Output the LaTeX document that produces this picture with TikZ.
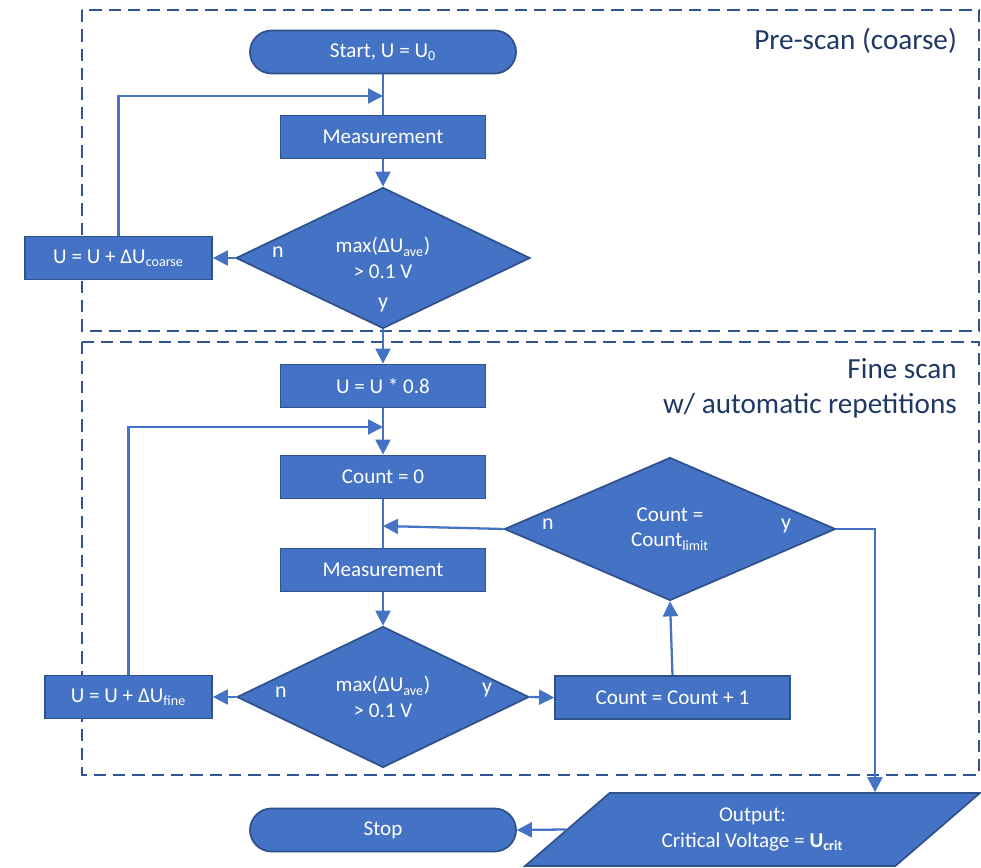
\documentclass[tikz,border=0pt]{standalone}
\usepackage{fontspec}
\setmainfont{Carlito}
\usetikzlibrary{arrows.meta,shapes.geometric,positioning}

\definecolor{boxblue}{HTML}{4472C4}
\definecolor{edgeblue}{HTML}{2F528F}
\definecolor{frameblue}{HTML}{2F5597}
\definecolor{navy}{HTML}{1F3864}

\begin{document}
\begin{tikzpicture}[>={Triangle[length=3mm,width=3mm]},
    box/.style={draw=edgeblue, fill=boxblue, line width=1pt, text=white,
        font=\fontsize{12}{14.4}\selectfont, minimum height=0.86cm, inner sep=0pt},
    term/.style={box, rounded corners=0.43cm, minimum width=5.32cm},
    dec/.style={box, diamond, align=center, minimum width=5.88cm, minimum height=2.82cm},
    yn/.style={text=white, font=\fontsize{12.5}{15}\selectfont},
    conn/.style={draw=boxblue, line width=1.3pt},
    scanframe/.style={draw=frameblue, line width=1.5pt, dash pattern=on 7pt off 4pt},
    grouptitle/.style={text=navy, font=\fontsize{16.6}{20}\selectfont, align=right}]
\useasboundingbox (0, 0) rectangle (19.62, -17.36);

%% 两个虚线区域
\draw [scanframe] (1.64, -0.2) rectangle (19.58, -6.62);
\draw [scanframe] (1.64, -6.84) rectangle (19.58, -15.5);
\node [grouptitle, anchor=east] (pre) at (19.26, -0.82) {Pre-scan (coarse)};
\node [grouptitle, anchor=east] (fine-t) at (19.26, -7.76) {Fine scan\\w/ automatic repetitions};

%% 粗扫描
\node [term] (start) at (7.66, -1.04) {Start, U = U\textsubscript{0}};
\node [box, minimum width=4.1cm] (meas1) at (7.66, -2.74) {Measurement};
\node [dec] (dec1) at (7.66, -5.16) {max(ΔU\textsubscript{ave})\\> 0.1 V};
\node [box, minimum width=3.74cm] (coarse) at (2.37, -5.16) {U = U + ΔU\textsubscript{coarse}};

%% 细扫描
\node [box, minimum width=4.1cm] (scale) at (7.66, -7.72) {U = U * 0.8};
\node [box, minimum width=4.1cm] (count0) at (7.66, -9.54) {Count = 0};
\node [box, minimum width=4.1cm] (meas2) at (7.66, -11.4) {Measurement};
\node [dec, minimum width=5.84cm] (dec2) at (7.66, -13.94) {max(ΔU\textsubscript{ave})\\> 0.1 V};
\node [box, minimum width=3.34cm] (fine) at (2.57, -13.94) {U = U + ΔU\textsubscript{fine}};
\node [box, minimum width=4.7cm] (inc) at (13.45, -13.95) {Count = Count + 1};
\node [dec, minimum width=6.62cm, minimum height=2.86cm] (lim) at (13.4, -10.58) {Count =\\Count\textsubscript{limit}};

%% 输出和结束
\node [box, trapezium, trapezium left angle=38.4, trapezium right angle=141.6,
    trapezium stretches=true, minimum width=9.1cm, minimum height=1.46cm,
    align=center] (out) at (15.05, -16.59) {Output:\\Critical Voltage = \textbf{U\textsubscript{crit}}};
\node [term] (stop) at (7.66, -16.6) {Stop};

%% 分支标记
\foreach \nm/\xy/\t in {n1/{5.56, -5.04}/n, y1/{7.66, -6.1}/y,
    n2/{5.62, -13.84}/n, y2/{9.74, -13.8}/y,
    n3/{10.96, -10.48}/n, y3/{15.72, -10.52}/y}
{
    \node [yn] (\nm) at (\xy) {\t};
}

%% 连线
\coordinate (j1) at (7.66, -1.92);
\coordinate (j2) at (7.66, -8.54);
\coordinate (j3) at (7.66, -10.52);
\coordinate (r) at (17.5, 0);

\draw [conn] (start) -- (meas1);
\draw [conn, ->] (coarse.north) |- (j1);
\draw [conn, ->] (meas1) -- (dec1);
\draw [conn, ->] (dec1.west) -- (coarse.east);
\draw [conn, ->] (dec1.south) -- (scale.north);
\draw [conn, ->] (scale) -- (count0);
\draw [conn, ->] (fine.north) |- (j2);
\draw [conn] (count0) -- (meas2);
\draw [conn, ->] (lim.west) -- (j3);
\draw [conn, ->] (meas2) -- (dec2);
\draw [conn, ->] (dec2.west) -- (fine.east);
\draw [conn, ->] (dec2.east) -- (inc.west);
\draw [conn, ->] (inc.north) -- (lim.south);
\draw [conn, ->] (lim.east) -| (r |- out.north);
\draw [conn, ->] (out.left side) -- (stop.east);

\end{tikzpicture}
\end{document}
